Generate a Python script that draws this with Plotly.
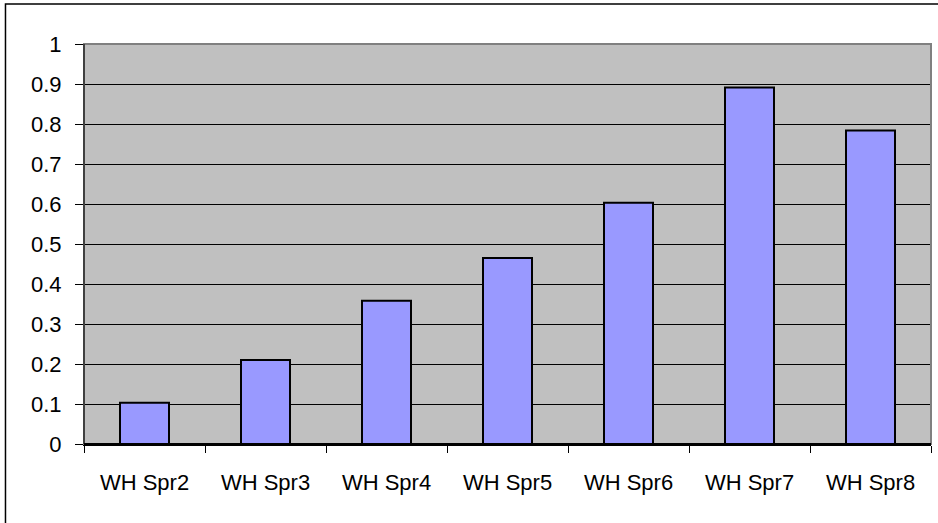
import plotly.graph_objects as go

categories = ["WH Spr2", "WH Spr3", "WH Spr4", "WH Spr5", "WH Spr6", "WH Spr7", "WH Spr8"]
values = [0.103, 0.21, 0.358, 0.465, 0.603, 0.891, 0.784]
y_ticks = [0, 0.1, 0.2, 0.3, 0.4, 0.5, 0.6, 0.7, 0.8, 0.9, 1]
y_labels = ["0", "0.1", "0.2", "0.3", "0.4", "0.5", "0.6", "0.7", "0.8", "0.9", "1"]

fig = go.Figure()
fig.add_trace(go.Bar(
    x=categories, y=values,
    marker=dict(color="#9999FF", line=dict(color="#000000", width=2)),
    width=0.405,
))

fig.update_layout(
    width=938, height=523,
    margin=dict(l=84, r=7, t=44, b=78.5),
    paper_bgcolor="white",
    plot_bgcolor="#C0C0C0",
    font=dict(family="Liberation Sans, Arial", size=22, color="#000000"),
    showlegend=False,
    bargap=0.595,
    xaxis=dict(
        type="category", tickson="boundaries",
        ticks="outside", ticklen=7, tickcolor="#000000", tickwidth=1,
        showgrid=False, showline=True, linecolor="#000000", linewidth=2,
        ticklabelstandoff=18,
        tickfont=dict(size=22),
        range=[-0.5, 6.5],
    ),
    yaxis=dict(
        range=[0, 1], tickvals=y_ticks, ticktext=y_labels,
        ticks="outside", ticklen=8, tickcolor="#000000", tickwidth=1,
        showgrid=True, gridcolor="#000000", gridwidth=1,
        showline=True, linecolor="#000000", linewidth=1,
        zeroline=False,
        ticklabelstandoff=9,
        tickfont=dict(size=22),
    ),
    shapes=[
        dict(type="rect", xref="paper", yref="paper", x0=0, x1=1, y0=0, y1=1,
             line=dict(color="#808080", width=2), layer="above"),
        dict(type="line", xref="paper", yref="paper", x0=0, x1=0, y0=0, y1=1,
             line=dict(color="#000000", width=1), layer="above"),
        dict(type="line", xref="paper", yref="paper", x0=0, x1=1, y0=0, y1=0,
             line=dict(color="#000000", width=2), layer="above"),
        dict(type="rect", xref="paper", yref="paper", x0=-0.0927, x1=1.015, y0=-0.205, y1=1.1,
             line=dict(color="#000000", width=1.5), layer="below"),
    ],
)

fig.write_html("out.html", config={"displayModeBar": False},
               post_script="document.body.style.margin='0';")
